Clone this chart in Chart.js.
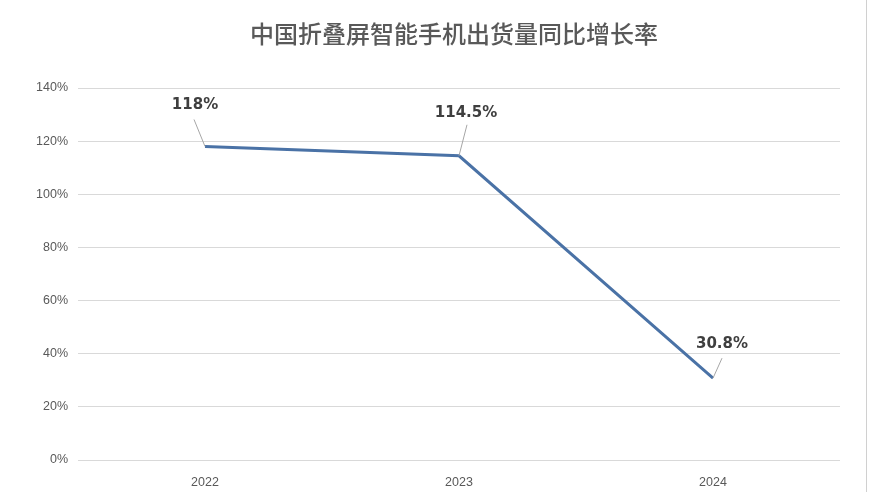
<!DOCTYPE html>
<html><head><meta charset="utf-8">
<script src="https://cdn.jsdelivr.net/npm/chart.js@4"></script>
<style>html,body{margin:0;padding:0;background:#fff}#wrap{width:870px;height:492px}</style>
</head><body><div id="wrap"><canvas id="c" width="870" height="492"></canvas></div>
<script>
const titleText = '中国折叠屏智能手机出货量同比增长率';
const categories = ['2022', '2023', '2024'];
const growthValues = [118, 114.5, 30.8];
const valueLabels = ['118%', '114.5%', '30.8%'];
const yTicks = [0, 20, 40, 60, 80, 100, 120, 140];

const labelPlugin = {
  id: 'leaderLabels',
  afterDatasetsDraw(chart, args, opts) {
    const ctx = chart.ctx;
    const meta = chart.getDatasetMeta(0);
    meta.data.forEach((pt, i) => {
      const o = opts.offsets[i];
      ctx.save();
      ctx.strokeStyle = '#a6a6a6';
      ctx.lineWidth = 1;
      ctx.beginPath();
      ctx.moveTo(pt.x + o.lx, pt.y + o.ly);
      ctx.lineTo(pt.x, pt.y);
      ctx.stroke();
      ctx.fillStyle = '#3f3f3f';
      ctx.font = 'bold 15px "DejaVu Sans"';
      ctx.textAlign = 'center';
      ctx.textBaseline = 'middle';
      ctx.fillText(valueLabels[i], pt.x + o.tx, pt.y + o.ty);
      ctx.restore();
    });
  },
  afterDraw(chart) {
    const ctx = chart.ctx;
    ctx.save();
    ctx.fillStyle = '#595959';
    ctx.font = '500 24px "Noto Sans CJK SC"';
    ctx.textAlign = 'center';
    ctx.textBaseline = 'middle';
    ctx.fillText(titleText, 454, 34);
    ctx.strokeStyle = '#d0d0d0';
    ctx.lineWidth = 1;
    ctx.beginPath();
    ctx.moveTo(866.5, 0);
    ctx.lineTo(866.5, 492);
    ctx.stroke();
    ctx.restore();
  }
};

new Chart(document.getElementById('c'), {
  type: 'line',
  data: {
    labels: categories,
    datasets: [{
      data: growthValues,
      borderColor: '#4a72a6',
      borderWidth: 3,
      pointRadius: 0,
      tension: 0,
      fill: false
    }]
  },
  options: {
    responsive: false,
    animation: false,
    layout: { padding: { top: 88, right: 30, bottom: 0, left: 0 } },
    plugins: {
      legend: { display: false },
      title: { display: false },
      tooltip: { enabled: false },
      leaderLabels: {
        offsets: [
          { tx: -10, ty: -41, lx: -11, ly: -27 },
          { tx: 7, ty: -43, lx: 8, ly: -31 },
          { tx: 9, ty: -34, lx: 9, ly: -20 }
        ]
      }
    },
    scales: {
      x: {
        offset: true,
        grid: { display: false, drawTicks: false },
        border: { display: false },
        ticks: { color: '#595959', font: { family: '"Liberation Sans"', size: 12.5 }, padding: 15 },
        afterFit(s) { s.height = 32; }
      },
      y: {
        min: 0, max: 140,
        afterBuildTicks(s) { s.ticks = yTicks.map(v => ({ value: v })); },
        grid: { color: '#d9d9d9', lineWidth: 1, drawTicks: false },
        border: { display: false },
        ticks: { color: '#595959', font: { family: '"Liberation Sans"', size: 12.5 }, padding: 10, callback: v => v + '%' },
        afterFit(s) { s.width = 78; }
      }
    }
  },
  plugins: [labelPlugin]
});
</script></body></html>
